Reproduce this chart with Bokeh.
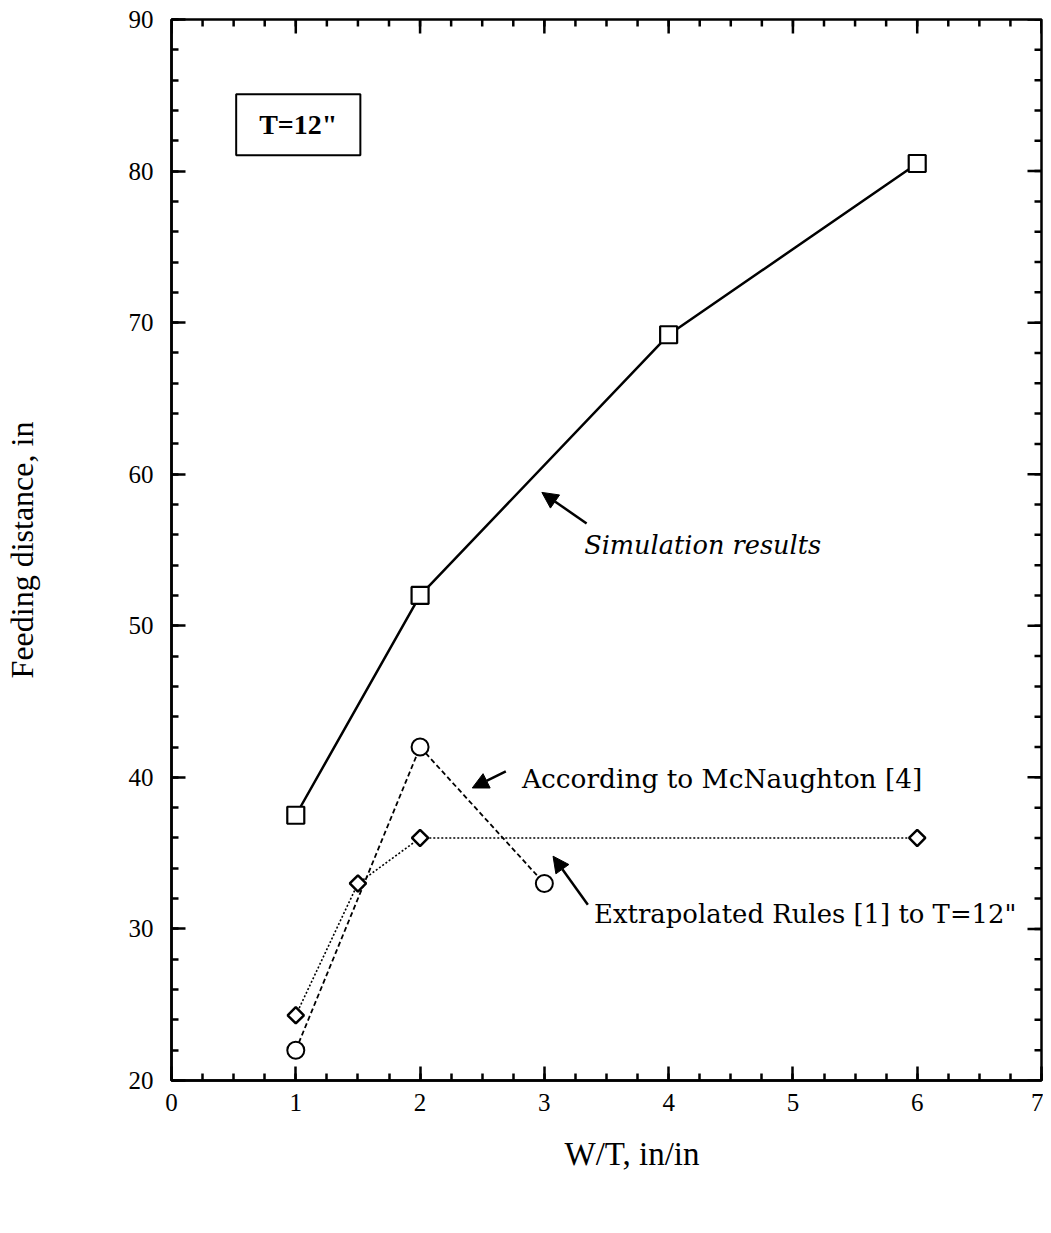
import math
from bokeh.plotting import figure
from bokeh.models import Range1d, Label, Arrow, NormalHead, FixedTicker, Title, LinearAxis
from bokeh.embed import file_html
from bokeh.resources import INLINE

# ---- data ----
sim_x = [1, 2, 4, 6]
sim_y = [37.5, 52.0, 69.2, 80.5]

mcn_x = [1, 2, 3]
mcn_y = [22.0, 42.0, 33.0]

ext_x = [1, 1.5, 2, 6]
ext_y = [24.3, 33.0, 36.0, 36.0]

x_ticks = [0, 1, 2, 3, 4, 5, 6, 7]
y_ticks = [20, 30, 40, 50, 60, 70, 80, 90]
x_minor = [0.25 * i for i in range(29)]
y_minor = [20 + 2 * i for i in range(36)]

x_title = "W/T, in/in"
y_title = "Feeding distance, in"

# annotation texts (x, y in data units)
notes = ["Simulation results", "According to McNaughton [4]", "Extrapolated Rules [1] to T=12\""]
note_x = [3.32, 2.82, 3.40]
note_y = [55.3, 39.9, 31.0]
note_style = ["italic", "normal", "normal"]
note_size = ["25.6px", "26.4px", "25.9px"]
# arrows: tail -> tip
arr_x0 = [3.34, 2.69, 3.35]
arr_y0 = [56.75, 40.4, 31.6]
arr_x1 = [2.98, 2.42, 3.07]
arr_y1 = [58.8, 39.3, 34.8]

FONT = "Liberation Serif"
NOTE_FONT = "DejaVu Serif"

p = figure(width=1043, height=1225, x_range=Range1d(0, 7), y_range=Range1d(20, 90),
           output_backend="svg", toolbar_location=None,
           min_border_left=165, min_border_top=19, min_border_right=2,
           min_border_bottom=145)
p.background_fill_color = "white"
p.border_fill_color = "white"
p.grid.visible = False
p.outline_line_color = "black"
p.outline_line_width = 2.5

def style_axis(ax, ticks, minors):
    ax.ticker = FixedTicker(ticks=ticks, minor_ticks=minors)
    ax.axis_line_color = "black"
    ax.axis_line_width = 2.5
    ax.major_tick_in = 14
    ax.major_tick_out = 0
    ax.minor_tick_in = 7
    ax.minor_tick_out = 0
    ax.major_tick_line_width = 2.5
    ax.minor_tick_line_width = 2.5
    ax.major_tick_line_color = "black"
    ax.minor_tick_line_color = "black"
    ax.major_label_text_font = FONT
    ax.major_label_text_font_size = "25px"
    ax.major_label_text_color = "black"
    ax.axis_label_text_font = FONT
    ax.axis_label_text_font_size = "32px"
    ax.axis_label_text_font_style = "normal"
    ax.axis_label_text_color = "black"

style_axis(p.xaxis[0], x_ticks, x_minor)
style_axis(p.yaxis[0], y_ticks, y_minor)
p.xaxis[0].major_label_standoff = 13
p.yaxis[0].major_label_standoff = 18
p.yaxis[0].axis_label = y_title
p.yaxis[0].axis_label_standoff = 86

# invisible spacer below the tick labels (no ticks, no labels, no line)
spacer = LinearAxis(ticker=FixedTicker(ticks=[], minor_ticks=[]))
spacer.axis_line_color = None
spacer.major_tick_line_color = None
spacer.minor_tick_line_color = None
spacer.major_tick_in = 0
spacer.major_tick_out = 29
spacer.minor_tick_in = 0
spacer.minor_tick_out = 0
spacer.major_label_standoff = 0
p.add_layout(spacer, "below")

# x-axis title sits right of the frame centre in the original
p.add_layout(Title(text=x_title, align="left", offset=393, standoff=40,
                   text_font=FONT, text_font_size="33px", text_font_style="normal",
                   text_color="black"), "below")

# mirrored inward ticks on top and right edges
p.ray(x=x_ticks, y=90, length=14, length_units="screen", angle=-math.pi / 2,
      line_color="black", line_width=2.5)
p.ray(x=x_minor, y=90, length=7, length_units="screen", angle=-math.pi / 2,
      line_color="black", line_width=2.5)
p.ray(x=7, y=y_ticks, length=14, length_units="screen", angle=math.pi,
      line_color="black", line_width=2.5)
p.ray(x=7, y=y_minor, length=7, length_units="screen", angle=math.pi,
      line_color="black", line_width=2.5)

# ---- series ----
p.line(sim_x, sim_y, line_color="black", line_width=2.5)
p.line(mcn_x, mcn_y, line_color="black", line_width=1.8, line_dash="5 3")
p.line(ext_x, ext_y, line_color="black", line_width=1.6, line_dash="2 2")

p.scatter(sim_x, sim_y, marker="square", size=17, fill_color="white",
          line_color="black", line_width=2.2)
p.scatter(mcn_x, mcn_y, marker="circle", size=17, fill_color="white",
          line_color="black", line_width=2)
p.scatter(ext_x, ext_y, marker="square", size=11.5, angle=math.pi / 4, fill_color="white",
          line_color="black", line_width=2.5)

# ---- annotations ----
for t, x, y, s, fs in zip(notes, note_x, note_y, note_style, note_size):
    p.add_layout(Label(x=x, y=y, text=t, text_font=NOTE_FONT, text_font_size=fs,
                       text_font_style=s, text_baseline="middle", text_align="left",
                       text_color="black"))

for x0, y0, x1, y1 in zip(arr_x0, arr_y0, arr_x1, arr_y1):
    p.add_layout(Arrow(x_start=x0, y_start=y0, x_end=x1, y_end=y1,
                       line_color="black", line_width=2.5,
                       end=NormalHead(size=16, fill_color="black", line_color="black", line_width=1)))

p.add_layout(Label(x=1.02, y=83.05, text="T=12\"", text_font=FONT, text_font_size="28px",
                   text_font_style="bold", text_align="center", text_baseline="middle",
                   text_color="black", border_line_color="black", border_line_width=2,
                   background_fill_color="white",
                   padding=dict(left=23, right=23, top=15, bottom=15)))

open("out.html", "w").write(file_html(p, INLINE))
